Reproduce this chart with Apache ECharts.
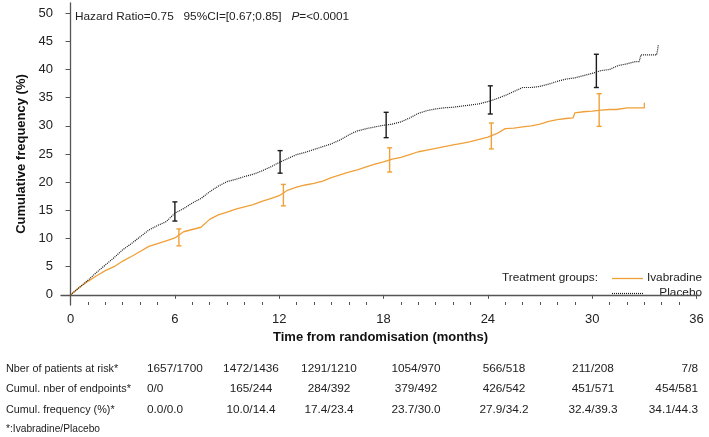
<!DOCTYPE html>
<html>
<head>
<meta charset="utf-8">
<script src="https://cdn.jsdelivr.net/npm/echarts@6/dist/echarts.min.js"></script>
<style>
html,body{margin:0;padding:0;background:#fff;}
#chart{width:709px;height:437px;}
</style>
</head>
<body>
<div id="chart"></div>
<script>
// ---------- data ----------
var xTicks = [0, 6, 12, 18, 24, 30, 36];
var xMinorTicks = [1,2,3,4,5,7,8,9,10,11,13,14,15,16,17,19,20,21,22,23,25,26,27,28,29,31,32,33,34,35];
var yTicks = [0, 5, 10, 15, 20, 25, 30, 35, 40, 45, 50];

var placebo = [[0,0],[0.5,1.3],[1,2.6],[1.5,4.0],[2,5.3],[2.5,6.6],[3,8.0],[3.5,9.1],[4,10.3],[4.5,11.5],[5,12.3],[5.5,13.0],[6,14.5],[6.5,15.3],[7,16.3],[7.5,17.1],[8,18.3],[8.5,19.3],[9,20.1],[9.5,20.5],[10,21.0],[10.5,21.4],[11,22.0],[11.5,22.7],[12,23.5],[12.5,24.2],[13,24.9],[13.5,25.3],[14,25.8],[14.5,26.3],[15,26.8],[15.5,27.5],[16,28.4],[16.5,29.1],[17,29.5],[17.5,29.8],[18,30.1],[18.5,30.3],[19,30.7],[19.5,31.4],[20,32.2],[20.5,32.7],[21,33.0],[21.5,33.2],[22,33.3],[22.5,33.5],[23,33.7],[23.5,33.9],[24,34.3],[24.5,34.8],[25,35.4],[25.5,36.1],[26,36.8],[26.5,36.8],[27,37.0],[27.5,37.4],[28,37.9],[28.5,38.3],[29,38.5],[29.5,38.9],[30,39.3],[30.5,39.8],[31,40.0],[31.5,40.7],[32,41.0],[32.5,41.4],[32.7,41.4],[32.8,42.6],[33.7,42.6],[33.75,43.3],[33.8,44.3]];

var ivabradine = [[0,0],[0.5,1.3],[1,2.4],[1.5,3.4],[2,4.3],[2.5,5.0],[3,6.0],[3.5,6.8],[4,7.7],[4.5,8.6],[5,9.1],[5.5,9.6],[6,10.1],[6.5,11.2],[7,11.6],[7.5,12.0],[8,13.4],[8.5,14.2],[9,14.7],[9.5,15.2],[10,15.6],[10.5,16.0],[11,16.6],[11.5,17.1],[12,17.6],[12.5,18.6],[13,19.1],[13.5,19.5],[14,19.8],[14.5,20.2],[15,20.8],[15.5,21.3],[16,21.8],[16.5,22.2],[17,22.7],[17.5,23.2],[18,23.6],[18.5,24.1],[19,24.4],[19.5,24.9],[20,25.4],[20.5,25.7],[21,26.0],[21.5,26.3],[22,26.6],[22.5,26.9],[23,27.2],[23.5,27.6],[24,28.0],[24.5,28.6],[25,29.5],[25.5,29.6],[26,29.8],[26.5,30.0],[27,30.3],[27.5,30.8],[28,31.1],[28.5,31.3],[28.9,31.4],[29,32.3],[29.5,32.5],[30,32.6],[30.5,32.8],[31,32.9],[31.4,32.9],[31.5,33.2],[32,33.2],[32.5,33.2],[33,33.2],[33,34.1]];

// error bars: [month, low, high]
var placeboCI = [[6.0,13.1,16.5],[12.05,21.6,25.6],[18.15,27.9,32.4],[24.14,32.1,37.1],[30.24,36.8,42.7]];
var ivabradineCI = [[6.23,8.7,11.7],[12.24,15.8,19.6],[18.35,21.8,26.1],[24.2,25.9,30.5],[30.4,29.9,35.7]];

// risk table
var tableLabels = ['Nber of patients at risk*', 'Cumul. nber of endpoints*', 'Cumul. frequency (%)*'];
var riskIva = [1657, 1472, 1291, 1054, 566, 211, 7];
var riskPla = [1700, 1436, 1210, 970, 518, 208, 8];
var endIva = [0, 165, 284, 379, 426, 451, 454];
var endPla = [0, 244, 392, 492, 542, 571, 581];
var freqIva = ['0.0', '10.0', '17.4', '23.7', '27.9', '32.4', '34.1'];
var freqPla = ['0.0', '14.4', '23.4', '30.0', '34.2', '39.3', '44.3'];
var footnote = '*:Ivabradine/Placebo';
var hazardText = 'Hazard Ratio=0.75   95%CI=[0.67;0.85]   ';
var pText = '=<0.0001';

// ---------- styling ----------
var ORANGE = '#F0A038';
var BLACK = '#1a1a1a';
var FONT = '"Liberation Sans", Arial, sans-serif';

var chart = echarts.init(document.getElementById('chart'), null, {renderer: 'canvas'});

function errRender(color) {
  return function (params, api) {
    var x = api.value(0);
    var lo = api.coord([x, api.value(1)]);
    var hi = api.coord([x, api.value(2)]);
    var w = 2.5;
    var st = {stroke: color, lineWidth: 1.4};
    return {
      type: 'group',
      children: [
        {type: 'line', shape: {x1: lo[0], y1: lo[1], x2: hi[0], y2: hi[1]}, style: st},
        {type: 'line', shape: {x1: lo[0]-w, y1: lo[1], x2: lo[0]+w, y2: lo[1]}, style: st},
        {type: 'line', shape: {x1: hi[0]-w, y1: hi[1], x2: hi[0]+w, y2: hi[1]}, style: st}
      ]
    };
  };
}

// table graphics
var rowsY = [369, 389, 410];
var colX = [147, 251, 329, 416, 504, 593, 698];
var rowsData = [
  riskIva.map(function(v,i){return v + '/' + riskPla[i];}),
  endIva.map(function(v,i){return v + '/' + endPla[i];}),
  freqIva.map(function(v,i){return v + '/' + freqPla[i];})
];
var graphics = [];
tableLabels.forEach(function(lbl, r){
  graphics.push({type:'text', x: 6, y: rowsY[r], style:{text: lbl, font: '10.8px ' + FONT, fill: '#222', verticalAlign: 'middle'}});
  rowsData[r].forEach(function(txt, c){
    var align = c === 0 ? 'left' : (c === colX.length-1 ? 'right' : 'center');
    graphics.push({type:'text', x: colX[c], y: rowsY[r], style:{text: txt, font: '11.8px ' + FONT, fill: '#222', align: align, verticalAlign: 'middle'}});
  });
});
graphics.push({type:'text', x: 6, y: 429, style:{text: footnote, font: '10.2px ' + FONT, fill: '#222', verticalAlign: 'middle'}});
// hazard ratio text
graphics.push({type:'text', x: 75, y: 17, style:{
  text: '{n|' + hazardText + '}{i|P}{n|' + pText + '}',
  verticalAlign: 'middle',
  rich: {n: {font: '11.8px ' + FONT, fill: '#222'}, i: {font: 'italic 11.8px ' + FONT, fill: '#222'}}
}});
// legend
graphics.push({type:'text', x: 598, y: 278, style:{text: 'Treatment groups:', font: '11.8px ' + FONT, fill: '#222', align: 'right', verticalAlign: 'middle'}});
graphics.push({type:'polyline', shape:{points: [[612, 278.5], [643, 278.5]]}, style:{stroke: ORANGE, lineWidth: 1.3, fill: null}});
graphics.push({type:'text', x: 702, y: 278, style:{text: 'Ivabradine', font: '11.8px ' + FONT, fill: '#222', align: 'right', verticalAlign: 'middle'}});
graphics.push({type:'polyline', shape:{points: [[612, 293.5], [643, 293.5]]}, style:{stroke: BLACK, lineWidth: 1.2, lineDash: [1, 1], fill: null}});
graphics.push({type:'text', x: 702, y: 293, style:{text: 'Placebo', font: '11.8px ' + FONT, fill: '#222', align: 'right', verticalAlign: 'middle'}});

var option = {
  backgroundColor: '#fff',
  animation: false,
  textStyle: {fontFamily: FONT},
  grid: {left: 61, right: 9, top: 3, bottom: 132, containLabel: false},
  xAxis: [{
    type: 'value', min: -0.55, max: 36.2,
    name: 'Time from randomisation (months)', nameLocation: 'middle', nameGap: 23,
    nameTextStyle: {fontWeight: 'bold', fontSize: 13, color: '#111', fontFamily: FONT},
    axisLine: {show: true, lineStyle: {color: '#555', width: 1.3}},
    axisTick: {show: true, length: 4, customValues: xTicks, lineStyle: {color: '#555'}},
    axisLabel: {customValues: xTicks, fontSize: 13, color: '#222', margin: 8, fontFamily: FONT},
    splitLine: {show: false}
  }, {
    type: 'value', min: -0.55, max: 36.2, position: 'bottom',
    axisLine: {show: false},
    axisTick: {show: true, inside: true, length: 3, customValues: xMinorTicks, lineStyle: {color: '#555'}},
    axisLabel: {show: false},
    splitLine: {show: false}
  }],
  yAxis: {
    type: 'value', min: -1.8, max: 51.8,
    name: 'Cumulative frequency (%)', nameLocation: 'middle', nameGap: 30,
    nameTextStyle: {fontWeight: 'bold', fontSize: 13, color: '#111', fontFamily: FONT},
    axisLine: {show: true, lineStyle: {color: '#555', width: 1.3}},
    axisTick: {show: true, length: 5, customValues: yTicks, lineStyle: {color: '#555'}},
    axisLabel: {customValues: yTicks, fontSize: 13, color: '#222', margin: 8, fontFamily: FONT},
    splitLine: {show: false}
  },
  series: [
    {name: 'Ivabradine', type: 'line', data: ivabradine, showSymbol: false,
     lineStyle: {color: ORANGE, width: 1.3}, z: 3},
    {name: 'Placebo', type: 'line', data: placebo, showSymbol: false,
     lineStyle: {color: BLACK, width: 1.2, type: [1, 1]}, z: 4},
    {type: 'custom', data: ivabradineCI, renderItem: errRender(ORANGE), z: 5},
    {type: 'custom', data: placeboCI, renderItem: errRender(BLACK), z: 6}
  ],
  graphic: graphics
};
chart.setOption(option);
</script>
</body>
</html>
